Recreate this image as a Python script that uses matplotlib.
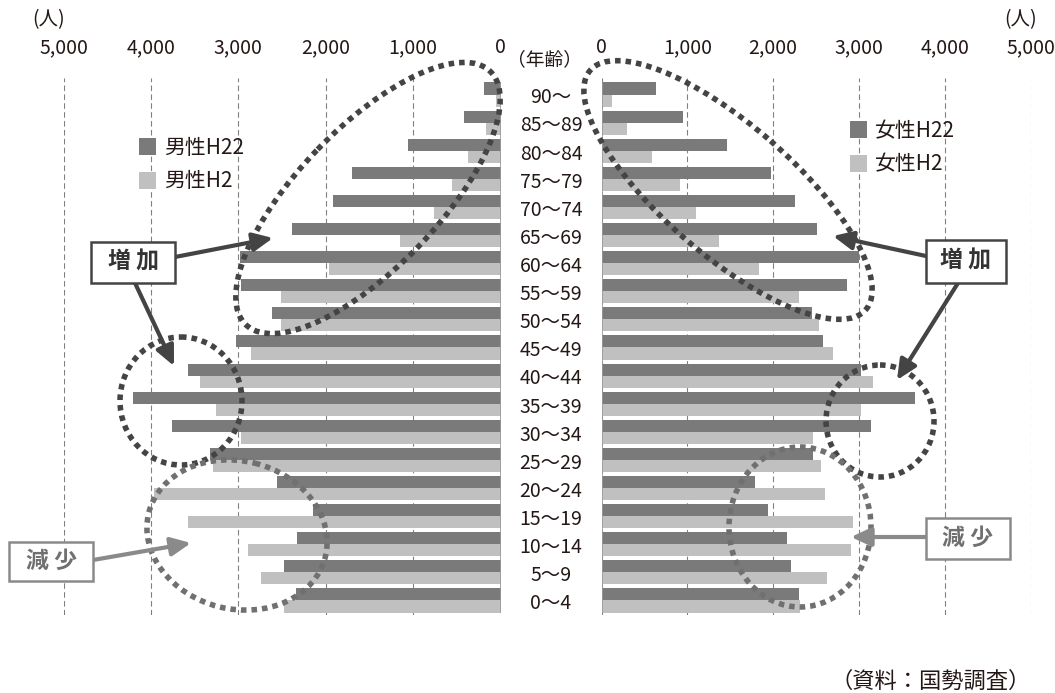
import matplotlib
matplotlib.use("Agg")
import matplotlib.pyplot as plt
import matplotlib.transforms as mtransforms
from matplotlib.patches import Ellipse, Rectangle, FancyArrowPatch
import numpy as np

plt.rcParams['font.family'] = ['Noto Sans CJK JP', 'DejaVu Sans']

# ---------------- data ----------------
ages = ["90～", "85～89", "80～84", "75～79", "70～74", "65～69", "60～64",
        "55～59", "50～54", "45～49", "40～44", "35～39", "30～34", "25～29",
        "20～24", "15～19", "10～14", "5～9", "0～4"]
male_h22 = [190, 420, 1060, 1700, 1920, 2390, 2980, 2970, 2610, 3030,
            3570, 4210, 3760, 3320, 2560, 2150, 2330, 2480, 2340]
male_h2 = [50, 170, 370, 560, 760, 1150, 1960, 2510, 2510, 2850,
           3440, 3260, 2970, 3290, 3960, 3580, 2890, 2740, 2480]
female_h22 = [640, 950, 1460, 1980, 2260, 2510, 3000, 2860, 2450, 2580,
              3020, 3650, 3140, 2470, 1790, 1940, 2160, 2210, 2300]
female_h2 = [120, 300, 590, 920, 1100, 1370, 1840, 2300, 2540, 2700,
             3160, 3020, 2470, 2560, 2610, 2930, 2910, 2630, 2310]
x_ticks = [0, 1000, 2000, 3000, 4000, 5000]
x_tick_labels = ["0", "1,000", "2,000", "3,000", "4,000", "5,000"]

# ---------------- style ----------------
DARK = "#7a7a7a"
LIGHT = "#c0c0c0"
TXT = "#231815"
ANN_DARK = "#444444"
ANN_GRAY = "#8a8a8a"
ELL_GRAY = "#707070"

W, H = 1055, 693
fig = plt.figure(figsize=(W / 100, H / 100), dpi=100)
fig.patch.set_facecolor("white")


def px_rect(x0, y0, x1, y1):
    return [x0 / W, 1 - y1 / H, (x1 - x0) / W, (y1 - y0) / H]


axL = fig.add_axes(px_rect(63.5, 78, 500.5, 615))
axR = fig.add_axes(px_rect(601.5, 78, 1030.5, 615))

y = np.arange(len(ages))
bh = 0.43

axL.barh(y - bh / 2, male_h22, height=bh, color=DARK, label="男性H22", zorder=2)
axL.barh(y + bh / 2, male_h2, height=bh, color=LIGHT, label="男性H2", zorder=2)
axR.barh(y - bh / 2, female_h22, height=bh, color=DARK, label="女性H22", zorder=2)
axR.barh(y + bh / 2, female_h2, height=bh, color=LIGHT, label="女性H2", zorder=2)

axL.set_xlim(5000, 0)
axR.set_xlim(0, 5000)
for ax in (axL, axR):
    ax.set_ylim(18.516, -0.587)
    ax.xaxis.tick_top()
    ax.set_xticks(x_ticks)
    ax.set_xticklabels(x_tick_labels)
    ax.tick_params(axis="x", length=0, pad=22.0, labelsize=14, labelcolor=TXT)
    for lab in ax.get_xticklabels():
        lab.set_va("center")
    ax.set_yticks([])
    for s in ax.spines.values():
        s.set_visible(False)
    ax.grid(axis="x", linestyle=(0, (5, 3)), color="#808080", lw=0.8)
    ax.set_axisbelow(True)
    ax.vlines(0, y[0] - bh, y[-1] + bh, color="#9a9a9a", lw=1.2, zorder=3)
    ax.patch.set_alpha(0)

# age labels in the middle column
tr = mtransforms.blended_transform_factory(fig.transFigure, axL.transData)
for i, a in enumerate(ages):
    fig.text(551 / W, i + 0.12, a, transform=tr, ha="center", va="center",
             fontsize=14, color=TXT)

fig.text(545 / W, 1 - 60 / H, "（年齢）", ha="center", va="center", fontsize=13.5, color=TXT)
fig.text(49 / W, 1 - 20 / H, "(人)", ha="center", va="center", fontsize=14, color=TXT)
fig.text(1021 / W, 1 - 20 / H, "(人)", ha="center", va="center", fontsize=14, color=TXT)
fig.text(1031 / W, 1 - 681 / H, "（資料：国勢調査）", ha="right", va="center",
         fontsize=16, color=TXT)

# legends
for ax, (lx, ly) in ((axL, (139, 137)), (axR, (850, 120))):
    ax.legend(loc="upper left", bbox_to_anchor=(lx / W, 1 - ly / H),
              bbox_transform=fig.transFigure, frameon=False, fontsize=15,
              handlelength=0.8, handleheight=0.85, handletextpad=0.4,
              labelspacing=0.55, borderpad=0, borderaxespad=0,
              labelcolor=TXT)

# ---------------- annotation overlay (pixel coordinates) ----------------
axO = fig.add_axes([0, 0, 1, 1], zorder=10)
axO.set_xlim(0, W)
axO.set_ylim(H, 0)
axO.axis("off")
axO.patch.set_alpha(0)

DOT = (0, (1, 0.9))
ellipses = [
    # (cx, cy, w, h, angle, color)
    (368, 198, 352, 140, -46, ANN_DARK),
    (181, 401, 122, 128, 0, ANN_DARK),
    (237, 535, 182, 148, 14, ELL_GRAY),
    (728, 190, 365, 130, 41, ANN_DARK),
    (880, 421, 108, 112, 0, ANN_DARK),
    (800, 527, 142, 160, 0, ELL_GRAY),
]
for cx, cy, w, h, ang, c in ellipses:
    axO.add_patch(Ellipse((cx, cy), w, h, angle=ang, fill=False, ec=c,
                          lw=4, ls=DOT))

arrows = [
    ((175, 257), (273, 238), ANN_DARK),
    ((135, 283), (174, 366), ANN_DARK),
    ((93, 560), (191, 543), ANN_GRAY),
    ((926, 256), (833, 236), ANN_DARK),
    ((958, 283), (897, 380), ANN_DARK),
    ((926, 537), (851, 537), ANN_GRAY),
]
for p0, p1, c in arrows:
    axO.add_patch(FancyArrowPatch(p0, p1, arrowstyle="-|>,head_length=0.6,head_width=0.28",
                                  mutation_scale=20, lw=3, color=c,
                                  shrinkA=0, shrinkB=0))

boxes = [
    # (x0, y0, x1, y1, text, edge color, text color)
    (91, 242, 175, 283, "増 加", ANN_DARK, "#333333"),
    (9, 542, 93, 581, "減 少", ANN_GRAY, "#707070"),
    (926, 240, 1006, 283, "増 加", ANN_DARK, "#333333"),
    (926, 518, 1010, 559, "減 少", ANN_GRAY, "#707070"),
]
for x0, y0, x1, y1, t, ec, tc in boxes:
    axO.add_patch(Rectangle((x0, y0), x1 - x0, y1 - y0, fc="white", ec=ec, lw=1.8))
    axO.text((x0 + x1) / 2, (y0 + y1) / 2, t, ha="center", va="center",
             fontsize=16.5, fontweight="bold", color=tc)

fig.savefig("out.png", dpi=100, facecolor="white")
